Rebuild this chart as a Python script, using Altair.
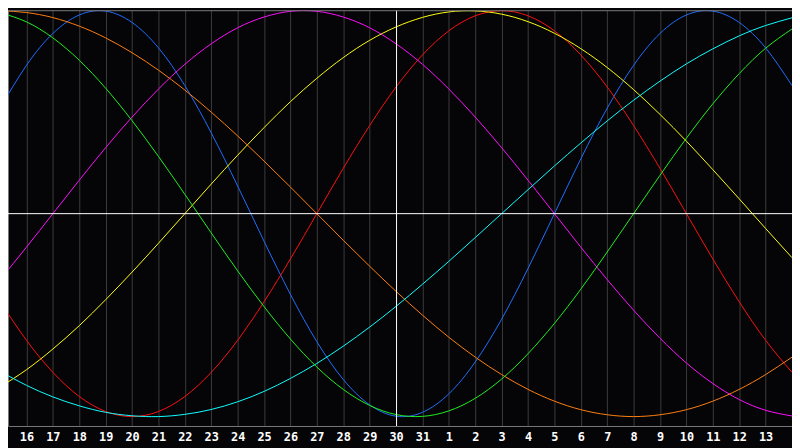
import altair as alt
import pandas as pd

# day labels for day index 0..30 (index 0 = 15th, index 30 = 14th of next month)
day_labels = ["", "16", "17", "18", "19", "20", "21", "22", "23", "24", "25", "26",
              "27", "28", "29", "30", "31", "1", "2", "3", "4", "5", "6", "7", "8",
              "9", "10", "11", "12", "13", ""]
today_index = 15

# cycle values read per day (index 0..30)
blue = [0.520, 0.731, 0.888, 0.979, 0.998, 0.942, 0.817, 0.631, 0.398, 0.136, -0.136,
        -0.398, -0.631, -0.817, -0.942, -0.998, -0.979, -0.888, -0.731, -0.520, -0.270,
        0.000, 0.270, 0.520, 0.731, 0.888, 0.979, 0.998, 0.942, 0.817, 0.631]
red = [-0.434, -0.624, -0.782, -0.901, -0.975, -1.000, -0.975, -0.901, -0.782, -0.624,
       -0.434, -0.223, 0.000, 0.223, 0.434, 0.624, 0.782, 0.901, 0.975, 1.000, 0.975,
       0.901, 0.782, 0.624, 0.434, 0.223, 0.000, -0.223, -0.434, -0.624, -0.782]
magenta = [-0.325, -0.165, 0.000, 0.165, 0.325, 0.476, 0.614, 0.736, 0.837, 0.916, 0.969,
           0.997, 0.997, 0.969, 0.916, 0.837, 0.736, 0.614, 0.476, 0.325, 0.165, 0.000,
           -0.165, -0.325, -0.476, -0.614, -0.736, -0.837, -0.916, -0.969, -0.997]
yellow = [-0.854, -0.769, -0.667, -0.552, -0.424, -0.288, -0.146, 0.000, 0.146, 0.288,
          0.424, 0.552, 0.667, 0.769, 0.854, 0.920, 0.967, 0.994, 0.999, 0.983, 0.946,
          0.889, 0.813, 0.720, 0.611, 0.489, 0.357, 0.217, 0.073, -0.073, -0.217]
orange = [1.000, 0.991, 0.966, 0.924, 0.866, 0.793, 0.707, 0.609, 0.500, 0.383, 0.259,
          0.131, 0.000, -0.131, -0.259, -0.383, -0.500, -0.609, -0.707, -0.793, -0.866,
          -0.924, -0.966, -0.991, -1.000, -0.991, -0.966, -0.924, -0.866, -0.793, -0.707]
cyan = [-0.777, -0.846, -0.903, -0.947, -0.979, -0.996, -1.000, -0.989, -0.965, -0.927,
        -0.876, -0.812, -0.738, -0.653, -0.559, -0.457, -0.348, -0.235, -0.118, 0.000,
        0.118, 0.235, 0.348, 0.457, 0.559, 0.653, 0.738, 0.812, 0.876, 0.927, 0.965]
green = [0.990, 0.945, 0.866, 0.756, 0.618, 0.458, 0.282, 0.095, -0.095, -0.282, -0.458,
         -0.618, -0.756, -0.866, -0.945, -0.990, -0.999, -0.972, -0.910, -0.815, -0.690,
         -0.541, -0.372, -0.189, 0.000, 0.189, 0.372, 0.541, 0.690, 0.815, 0.910]

series_names = ["blue", "red", "magenta", "yellow", "orange", "cyan", "green"]
series_values = [blue, red, magenta, yellow, orange, cyan, green]
series_colors = ["#1f6fff", "#ff1010", "#ff10ff", "#ffff10", "#ff8010", "#10ffff", "#20f020"]

rows = []
for name, vals in zip(series_names, series_values):
    for i, v in enumerate(vals):
        rows.append({"t": i, "value": v, "series": name})
df = pd.DataFrame(rows)

label_expr = "[" + ",".join("'%s'" % s for s in day_labels) + "][datum.value]"

# the page margin hides the first 0.3 day of the original view
x_scale = alt.Scale(domain=[0.3, len(day_labels) - 1], nice=False, zero=False)
y_scale = alt.Scale(domain=[-1.0463, 1.0024], nice=False, zero=False)

x_axis = alt.Axis(values=list(range(1, len(day_labels) - 1)), labelExpr=label_expr,
                  grid=True, gridColor="#3c3c3c", gridWidth=1, ticks=False,
                  domain=True, domainColor="#7a7a7a", labelColor="#ffffff",
                  labelFont="DejaVu Sans Mono", labelFontWeight="bold",
                  labelFontSize=12, labelPadding=6, labelOverlap=False,
                  labelFlush=False, labelBound=False, title=None)
y_axis = alt.Axis(labels=False, ticks=False, grid=False, domain=True,
                  domainColor="#7a7a7a", title=None)

lines = alt.Chart(df).mark_line(strokeWidth=1, interpolate="natural", clip=True).encode(
    x=alt.X("t:Q", scale=x_scale, axis=x_axis),
    y=alt.Y("value:Q", scale=y_scale, axis=y_axis),
    color=alt.Color("series:N", scale=alt.Scale(domain=series_names, range=series_colors),
                    legend=None),
)

center = alt.Chart(pd.DataFrame({"value": [0.0]})).mark_rule(
    color="#ffffff", strokeWidth=1).encode(y=alt.Y("value:Q", scale=y_scale, axis=y_axis))
today = alt.Chart(pd.DataFrame({"t": [today_index]})).mark_rule(
    color="#ffffff", strokeWidth=1, xOffset=0.5).encode(
    x=alt.X("t:Q", scale=x_scale, axis=x_axis))
top = alt.Chart(pd.DataFrame({"value": [0.0]})).mark_rule(
    color="#7a7a7a", strokeWidth=1).encode(y=alt.value(0.5), x=alt.value(0), x2=alt.value(792))

chart = alt.layer(lines, center, today, top).properties(
    width=792, height=420,
    autosize=alt.AutoSizeParams(type="none"),
    padding={"left": 0, "top": 0, "right": 0, "bottom": 20},
    background="#050508",
).configure_view(stroke=None, fill="#050508")

chart.save("out.html", embed_options={"renderer": "svg", "actions": False})
